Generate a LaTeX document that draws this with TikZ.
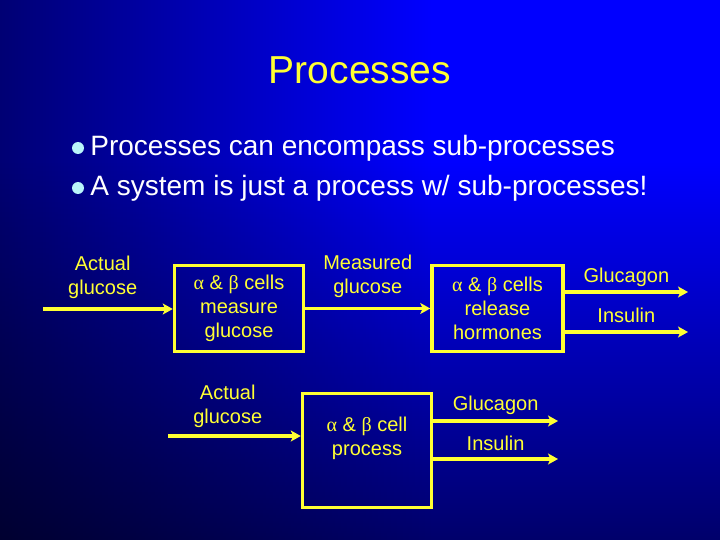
\documentclass[tikz,border=0pt]{standalone}
\usepackage{fontspec}
\setmainfont{Liberation Sans}
\newfontfamily\grk{Liberation Serif}
\usetikzlibrary{positioning,arrows.meta,fadings}

\definecolor{slideyellow}{RGB}{255,255,51}
\definecolor{bulletcyan}{RGB}{185,245,250}
\definecolor{slideblue}{RGB}{0,0,255}

% background: blue in the top right corner, black towards left and bottom
\pgfdeclarehorizontalshading{bgx}{100bp}{color(0bp)=(black); color(55bp)=(slideblue); color(100bp)=(slideblue)}
\pgfdeclareverticalshading{bgyshade}{100bp}{color(0bp)=(white); color(60bp)=(black); color(100bp)=(black)}
\pgfdeclarefading{bgfade}{\pgfuseshading{bgyshade}}

\newcommand{\albe}{{\grk α} \& {\grk β}}

\begin{document}
\begin{tikzpicture}[
    x=1pt, y=-1pt,
    title/.style={text=slideyellow, inner sep=0pt, font=\fontsize{39}{44}\selectfont},
    dot/.style={circle, fill=bulletcyan, minimum size=12pt, inner sep=0pt},
    bullettext/.style={text=white, inner sep=0pt, anchor=west, font=\fontsize{28}{32}\selectfont},
    hbox/.style={draw=slideyellow, line width=3.5pt, text=slideyellow, align=center,
                 minimum width=129pt, minimum height=86pt, inner sep=0pt,
                 font=\fontsize{20}{24}\selectfont},
    lbl/.style={text=slideyellow, align=center, inner sep=0pt,
                font=\fontsize{20}{24}\selectfont},
    arr/.style={-{Stealth[length=10pt, width=11pt, inset=2.5pt]}, line width=3.5pt, slideyellow},
  ]
    \useasboundingbox (0,0) rectangle (720,540);
    \shade[shading=bgx] (0,0) rectangle (720,540);
    \fill[black, path fading=bgfade] (0,0) rectangle (720,540);

    \node[title] (ttl) at (360,70) {Processes};

    \node[dot] (b1) at (78,148) {};
    \node[bullettext, right=6pt of b1] (t1) {Processes can encompass sub-processes};
    \node[dot] (b2) at (78,188) {};
    \node[bullettext, right=6pt of b2] (t2) {A system is just a process w/ sub-processes!};

    % upper row: two sub-processes
    \node[hbox] (measure) at (239,308.5) {\albe{} cells\\measure\\glucose};
    \node[hbox, right=125pt of measure, minimum width=131pt] (release) {\albe{} cells\\release\\hormones};

    \coordinate (inA)   at (43,309);
    \coordinate (gcOut) at (688,292);
    \coordinate (inOut) at (688,332);

    \draw[arr] (inA) -- (inA -| measure.west)
        node[lbl, pos=0.46, above=9pt] (actA) {Actual\\glucose};
    \draw[arr] (measure.east) -- (release.west)
        node[lbl, midway, above=9pt] (meas) {Measured\\glucose};
    \draw[arr] (gcOut -| release.east) -- (gcOut)
        node[lbl, midway, above=4pt] (gcA) {Glucagon};
    \draw[arr] (inOut -| release.east) -- (inOut)
        node[lbl, midway, above=8pt] (isA) {Insulin};

    % lower row: the whole process
    \node[hbox, minimum height=114pt] (cellproc) at (367,450.5) {};
    \node[lbl] (cellproctxt) at ([yshift=12pt]cellproc.center) {\albe{} cell\\process};

    \coordinate (inB)    at (168,436);
    \coordinate (gcOutB) at (558,421);
    \coordinate (inOutB) at (558,459);

    \draw[arr] (inB) -- (inB -| cellproc.west)
        node[lbl, pos=0.45, above=7pt] (actB) {Actual\\glucose};
    \draw[arr] (gcOutB -| cellproc.east) -- (gcOutB)
        node[lbl, midway, above=5pt] (gcB) {Glucagon};
    \draw[arr] (inOutB -| cellproc.east) -- (inOutB)
        node[lbl, midway, above=7pt] (isB) {Insulin};
\end{tikzpicture}
\end{document}
